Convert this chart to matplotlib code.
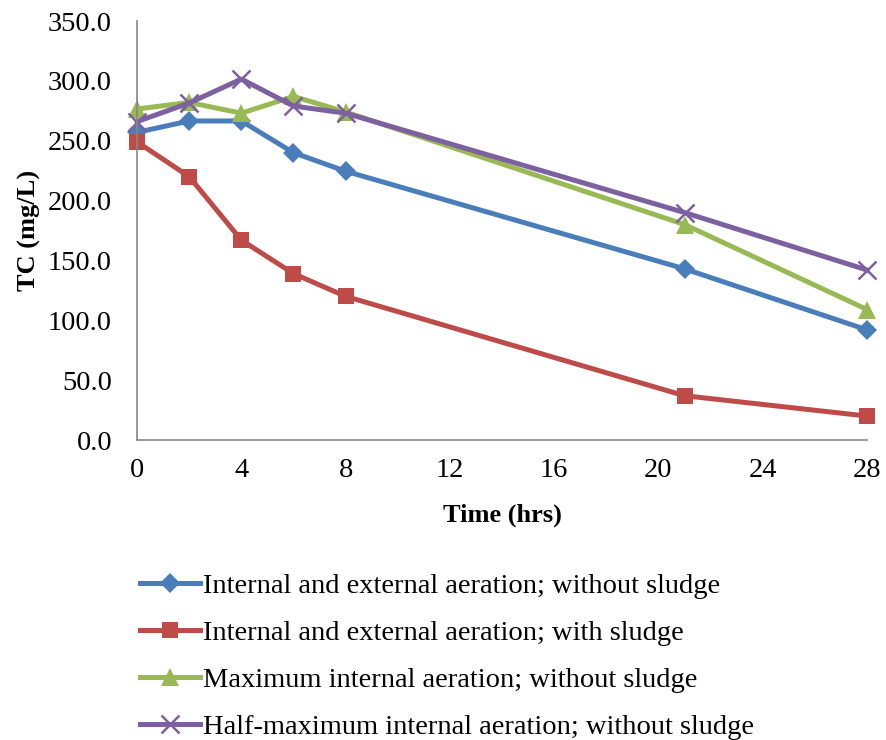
import matplotlib
matplotlib.use("Agg")
import matplotlib.pyplot as plt
from matplotlib.lines import Line2D

plt.rcParams['font.family'] = ['Liberation Serif', 'DejaVu Serif']

time_hrs = [0, 2, 4, 6, 8, 21, 28]
series_names = [
    "Internal and external aeration; without sludge",
    "Internal and external aeration; with sludge",
    "Maximum internal aeration; without sludge",
    "Half-maximum internal aeration; without sludge",
]
ie_no_sludge = [257, 266.5, 266.5, 240, 224.5, 143, 92]
ie_sludge = [249, 220, 167, 139, 120, 37, 20]
max_no_sludge = [276.5, 282, 273, 287, 274, 180, 109]
half_no_sludge = [266, 281.5, 301.5, 279, 273, 190, 142]

x_ticks = [0, 4, 8, 12, 16, 20, 24, 28]
y_ticks = [0, 50, 100, 150, 200, 250, 300, 350]

colors = ["#4A7EBB", "#BE4B48", "#98B954", "#7D60A0"]
markers = ["D", "s", "^", "x"]
msizes = [10, 12, 13, 13]

fig = plt.figure(figsize=(8.87, 7.40), dpi=100)
ax = fig.add_axes([0.1545, 0.4054, 0.823, 0.5662])

all_series = [ie_no_sludge, ie_sludge, max_no_sludge, half_no_sludge]
handles = []
for vals, c, m, ms, name in zip(all_series, colors, markers, msizes, series_names):
    kw = dict(color=c, lw=3.6, marker=m, markersize=ms, label=name)
    if m == "x":
        kw.update(markeredgewidth=1.8)
    else:
        kw.update(markeredgewidth=0)
    ax.plot(time_hrs, vals, clip_on=False, **kw)
    handles.append(Line2D([], [], **kw))

ax.set_xlim(0, 28)
ax.set_ylim(0, 350)
ax.set_xticks(x_ticks)
ax.set_yticks(y_ticks)
ax.set_yticklabels([f"{v:.1f}" for v in y_ticks])
ax.tick_params(axis='both', length=0, labelsize=20.5)
ax.tick_params(axis='y', pad=18)
ax.tick_params(axis='x', pad=13)
for s in ["top", "right"]:
    ax.spines[s].set_visible(False)
for s in ["left", "bottom"]:
    ax.spines[s].set_color("#868686")
    ax.spines[s].set_linewidth(1.2)

ax.set_xlabel("Time (hrs)", fontsize=19, fontweight="bold", labelpad=15)
ax.set_ylabel("TC (mg/L)", fontsize=19, fontweight="bold", labelpad=5)

fig.legend(handles=handles, loc="upper left", bbox_to_anchor=(0.158, 0.225),
           frameon=False, fontsize=20.5, handlelength=2.1, handletextpad=0.1,
           labelspacing=0.73, borderaxespad=0, borderpad=0)

fig.savefig("out.png", dpi=100)
